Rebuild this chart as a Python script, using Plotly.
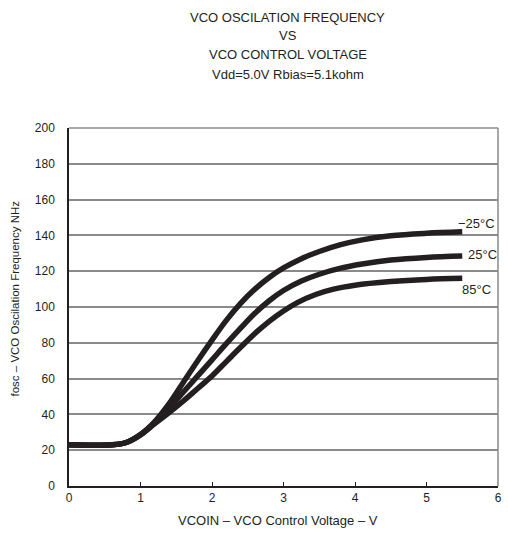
import plotly.graph_objects as go

# Data
v_m25 = [0, 0.6, 0.8, 1.0, 1.2, 1.4, 1.6, 1.8, 2.0, 2.2, 2.4, 2.6, 2.8, 3.0, 3.25, 3.5, 3.8, 4.1, 4.5, 5.0, 5.5]
f_m25 = [23, 23, 24.3, 28.8, 36, 46, 58, 70, 81.5, 92.5, 102, 110, 116.5, 121.8, 127, 131, 134.8, 137.5, 139.8, 141.2, 142]
v_25 = [0, 0.6, 0.8, 1.0, 1.2, 1.4, 1.6, 1.8, 2.0, 2.2, 2.4, 2.6, 2.8, 3.0, 3.25, 3.5, 3.8, 4.1, 4.5, 5.0, 5.5]
f_25 = [23, 23, 24.3, 28.6, 35.3, 43.5, 52.5, 61.5, 70.5, 79.5, 88.2, 96.5, 103.5, 109.2, 114.5, 118.3, 121.7, 124, 126.2, 127.7, 128.5]
v_85 = [0, 0.6, 0.8, 1.0, 1.2, 1.4, 1.6, 1.8, 2.0, 2.2, 2.4, 2.6, 2.8, 3.0, 3.2, 3.45, 3.7, 4.0, 4.5, 5.0, 5.5]
f_85 = [23, 23, 24.3, 28.5, 34.8, 41, 47.5, 54.5, 61.5, 69.5, 77.5, 85.2, 92, 97.8, 102.6, 107, 110, 112.2, 114.2, 115.4, 116]

labels = ["−25°C", "25°C", "85°C"]
label_x = [5.695, 5.785, 5.695]
label_y = [146.9, 129.6, 110.0]

title_lines = ["VCO OSCILATION FREQUENCY", "VS", "VCO CONTROL VOLTAGE", "Vdd=5.0V Rbias=5.1kohm"]
x_title = "VCOIN – VCO Control Voltage – V"
y_title = "fosc – VCO Oscilation Frequency NHz"
x_ticks = [0, 1, 2, 3, 4, 5, 6]
y_ticks = [0, 20, 40, 60, 80, 100, 120, 140, 160, 180, 200]

txt = "#231f20"
font = "Liberation Sans, Arial, sans-serif"

fig = go.Figure()
for name, xs, ys, lx, ly in zip(labels, [v_m25, v_25, v_85], [f_m25, f_25, f_85], label_x, label_y):
    fig.add_trace(go.Scatter(x=xs, y=ys, mode="lines", name=name,
                             line=dict(color="#231f20", width=5.5, shape="spline", smoothing=1.0),
                             showlegend=False, hoverinfo="skip"))
    fig.add_annotation(x=lx, y=ly, text=name, showarrow=False, xref="x", yref="y",
                       font=dict(size=13, color=txt, family=font))

W, H = 508, 540
PX0, PX1, PY0, PY1 = 69, 502, 128, 486
def px(x):
    return (x - PX0) / (PX1 - PX0)
def py(y):
    return (PY1 - y) / (PY1 - PY0)

for line, yy in zip(title_lines, [17.3, 36, 55, 74]):
    fig.add_annotation(x=px(290), y=py(yy), xref="paper", yref="paper",
                       text=line, showarrow=False, font=dict(size=13, color=txt, family=font),
                       xanchor="center", yanchor="middle")

fig.add_annotation(x=px(280), y=py(520), xref="paper", yref="paper",
                   text=x_title, showarrow=False, font=dict(size=13, color=txt, family=font),
                   xanchor="center", yanchor="middle")
fig.add_annotation(x=px(15), y=py(298), xref="paper", yref="paper",
                   text=y_title, textangle=-90, showarrow=False,
                   font=dict(size=11.5, color=txt, family=font),
                   xanchor="center", yanchor="middle")

# gray top/right border
fig.add_shape(type="line", xref="paper", yref="paper", x0=0, x1=1, y0=1, y1=1,
              line=dict(color="#8a8a8a", width=1.5), layer="below")
fig.add_shape(type="line", xref="paper", yref="paper", x0=1, x1=1, y0=0, y1=1,
              line=dict(color="#8a8a8a", width=1.5), layer="below")

fig.update_xaxes(range=[0, 6], tickvals=x_ticks, showgrid=False,
                 showline=True, linecolor="#231f20", linewidth=1.5,
                 ticks="inside", ticklen=4, tickcolor="#231f20", tickwidth=1,
                 tickfont=dict(size=12, color=txt, family=font), zeroline=False, fixedrange=True)
fig.update_yaxes(range=[0, 200], tickvals=y_ticks, showgrid=True,
                 gridcolor="#8a8a8a", gridwidth=1.5, showline=True, linecolor="#231f20",
                 linewidth=1.5, ticks="", ticklabelstandoff=10,
                 tickfont=dict(size=12, color=txt, family=font), zeroline=False, fixedrange=True)

fig.update_layout(width=W, height=H,
                  margin=dict(l=PX0, r=W - PX1, t=PY0, b=H - PY1),
                  plot_bgcolor="white", paper_bgcolor="white", showlegend=False)

fig.write_html("out.html", config={"displayModeBar": False},
               post_script="document.body.style.margin='0px';"
                           "document.body.style.overflow='hidden';"
                           "document.documentElement.style.overflow='hidden';")
